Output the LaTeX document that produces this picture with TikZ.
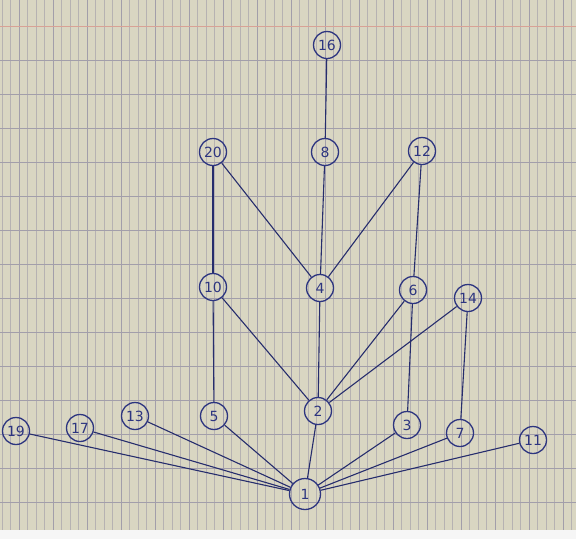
\documentclass[tikz,border=0pt]{standalone}
\usepackage{fontspec}
\setmainfont{DejaVu Sans}
\definecolor{paper}{HTML}{D9D6C2}
\definecolor{minorl}{HTML}{B6B2B2}
\definecolor{majorl}{HTML}{A29EAA}
\definecolor{redl}{HTML}{D8A296}
\definecolor{ink}{HTML}{2D3580}
\begin{document}
\begin{tikzpicture}[x=1pt,y=-1pt,
  vert/.style={circle,draw=ink,line width=1.3pt,inner sep=0pt,minimum size=27pt,
    text=ink,font=\fontsize{14}{14}\selectfont},
  big/.style={vert,minimum size=31pt},
  edge/.style={draw=ink!85!black,line width=1.1pt}]
\useasboundingbox (0,0) rectangle (576,539);
\fill[paper] (0,0) rectangle (576,539);
% vertical minor lines
\foreach \i in {0,...,68} {
  \draw[minorl,line width=0.5pt] ({2+\i*8.5},0) -- ({2+\i*8.5},530);
}
% vertical major lines
\foreach \i in {0,...,16} {
  \draw[majorl,line width=0.7pt] ({19+\i*34},0) -- ({19+\i*34},530);
}
% horizontal lines
\foreach \i in {1,...,14} {
  \draw[majorl,line width=0.7pt] (0,{26+\i*34}) -- (576,{26+\i*34});
}
\draw[redl,line width=0.8pt] (0,26) -- (576,26);
\fill[white!93!gray] (0,530) rectangle (576,539);
% nodes
\node[vert] (n16) at (327,45) {16};
\node[vert] (n20) at (213,152) {20};
\node[vert] (n8) at (325,152) {8};
\node[vert] (n12) at (422,151) {12};
\node[vert] (n10) at (213,287) {10};
\node[vert] (n4) at (320,288) {4};
\node[vert] (n6) at (413,290) {6};
\node[vert] (n14) at (468,298) {14};
\node[vert] (n2) at (318,411) {2};
\node[vert] (n5) at (214,416) {5};
\node[vert] (n3) at (407,425) {3};
\node[vert] (n7) at (460,433) {7};
\node[vert] (n11) at (533,440) {11};
\node[vert] (n19) at (16,431) {19};
\node[vert] (n17) at (80,428) {17};
\node[vert] (n13) at (135,416) {13};
\node[big] (n1) at (305,494) {1};
% edges
\foreach \a/\b in {n16/n8, n8/n4, n20/n4, n12/n4, n20/n10, n12/n6,
  n10/n2, n4/n2, n6/n2, n14/n2, n6/n3, n14/n7, n10/n5,
  n5/n1, n2/n1, n3/n1, n7/n1, n11/n1, n19/n1, n17/n1, n13/n1} {
  \draw[edge] (\a) -- (\b);
}
\end{tikzpicture}
\end{document}
